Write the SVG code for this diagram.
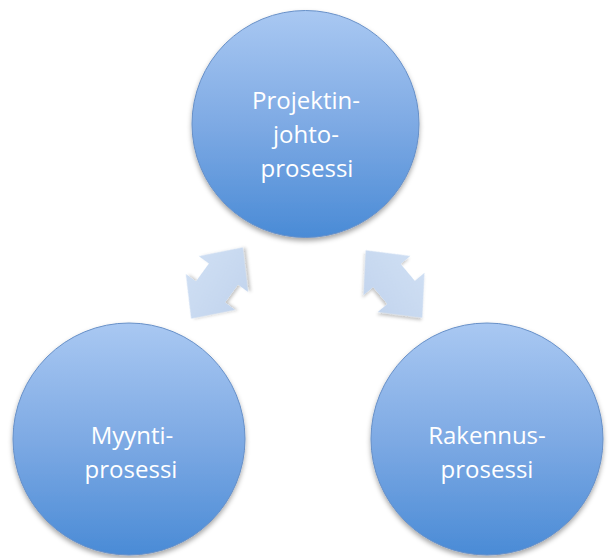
<svg xmlns="http://www.w3.org/2000/svg" width="610" height="558" viewBox="0 0 610 558">
  <defs>
    <linearGradient id="ballGrad" x1="0" y1="0" x2="0" y2="1">
      <stop offset="0" stop-color="#a9c8f2"/>
      <stop offset="0.5" stop-color="#7eaae4"/>
      <stop offset="1" stop-color="#4a8bd6"/>
    </linearGradient>
    <linearGradient id="arrowGrad" x1="0" y1="0" x2="0" y2="1">
      <stop offset="0" stop-color="#cedef3"/>
      <stop offset="1" stop-color="#c3d5ee"/>
    </linearGradient>
    <filter id="shadow" x="-20%" y="-20%" width="140%" height="140%">
      <feDropShadow dx="0" dy="3" stdDeviation="2.5" flood-color="#000" flood-opacity="0.35"/>
    </filter>
    <filter id="arrowShadow" x="-30%" y="-30%" width="160%" height="160%">
      <feDropShadow dx="1.5" dy="2.5" stdDeviation="1.5" flood-color="#000" flood-opacity="0.22"/>
    </filter>
    <polygon id="dblArrow" points="44,0 11,-30.5 11,-18 -11,-18 -11,-30.5 -44,0 -11,30.5 -11,18 11,18 11,30.5"/>
  </defs>
  <style>
    .ball { fill: url(#ballGrad); stroke: #6790c8; stroke-width: 1; filter: url(#shadow); }
    .arrow { fill: url(#arrowGrad); filter: url(#arrowShadow); }
    .label { font-family: "Open Sans", "Liberation Sans", sans-serif; font-size: 24px; fill: #ffffff; text-anchor: middle; }
  </style>
  <rect width="610" height="558" fill="#ffffff"/>
  <g id="connectors">
    <use href="#dblArrow" class="arrow" transform="translate(217,283) rotate(-54)"/>
    <use href="#dblArrow" class="arrow" transform="translate(394,284) rotate(50)"/>
  </g>
  <g id="node-projektinjohto">
    <circle class="ball" cx="305.5" cy="124" r="113.5"/>
    <text class="label" x="306" y="109">Projektin-</text>
    <text class="label" x="306" y="143">johto-</text>
    <text class="label" x="307" y="177">prosessi</text>
  </g>
  <g id="node-myynti">
    <circle class="ball" cx="129" cy="439" r="116"/>
    <text class="label" x="132" y="444">Myynti-</text>
    <text class="label" x="131" y="478">prosessi</text>
  </g>
  <g id="node-rakennus">
    <circle class="ball" cx="487" cy="439" r="116"/>
    <text class="label" x="487" y="444">Rakennus-</text>
    <text class="label" x="487" y="478">prosessi</text>
  </g>
</svg>
